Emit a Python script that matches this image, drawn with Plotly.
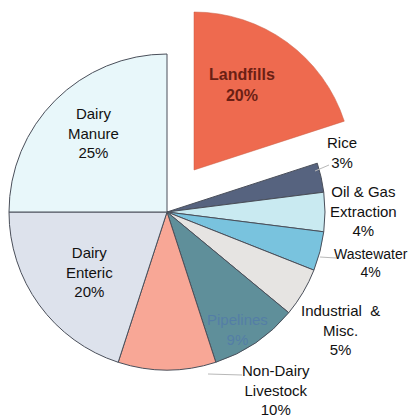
import plotly.graph_objects as go

# ---- data ----
labels = ["Landfills", "Rice", "Oil & Gas Extraction", "Wastewater",
          "Industrial & Misc.", "Pipelines", "Non-Dairy Livestock",
          "Dairy Enteric", "Dairy Manure"]
values = [20, 3, 4, 4, 5, 9, 10, 20, 25]
label_lines = ["Landfills", "Rice", "Oil & Gas<br>Extraction", "Wastewater",
               "Industrial  &<br>Misc.", "Pipelines", "Non-Dairy<br>Livestock",
               "Dairy<br>Enteric", "Dairy<br>Manure"]

# ---- style ----
W, H = 417, 418
colors = ["#ee6a4f", "#56637f", "#c9eaf1", "#79c3de", "#e6e4e2",
          "#5f8f9a", "#f8a796", "#dde2ec", "#e8f7fa"]
pulled = 0  # index of pulled slice
R = 158
center = (167, 212)
pull_center = (194, 170)

# label positions in pixels (x, y) and styles
label_pos = [(242, 85), (342, 152), (363, 211), (371, 263), (340, 330),
             (237, 329), (276, 390), (89, 272), (93, 133)]
label_size = [16, 15, 15, 14, 15, 15, 15, 15, 15]
label_color = ["#6b1f14", "#111111", "#111111", "#111111", "#111111",
               "rgba(80,120,170,0.75)", "#111111", "#111111", "#111111"]
label_bold = [True] + [False] * 8


def dom(c):
    x0, y0 = c[0] - R, c[1] - R
    x1, y1 = c[0] + R, c[1] + R
    return dict(x=[x0 / W, x1 / W], y=[1 - y1 / H, 1 - y0 / H])


n = len(values)
main_colors = [("rgba(0,0,0,0)" if i == pulled else colors[i]) for i in range(n)]
main_lw = [(0 if i == pulled else 1) for i in range(n)]
pull_colors = [(colors[i] if i == pulled else "rgba(0,0,0,0)") for i in range(n)]
pull_lw = [(0.5 if i == pulled else 0) for i in range(n)]

fig = go.Figure()
fig.add_trace(go.Pie(
    labels=labels, values=values, sort=False, direction="clockwise",
    rotation=0, domain=dom(center), textinfo="none", hoverinfo="label+percent",
    marker=dict(colors=main_colors, line=dict(color="#4a4f5a", width=main_lw)),
    showlegend=False))
fig.add_trace(go.Pie(
    labels=labels, values=values, sort=False, direction="clockwise",
    rotation=0, domain=dom(pull_center), textinfo="none", hoverinfo="skip",
    marker=dict(colors=pull_colors, line=dict(color="#c85a40", width=pull_lw)),
    showlegend=False))

for i in range(n):
    txt = f"{label_lines[i]}<br>{values[i]}%"
    if label_bold[i]:
        txt = f"<b>{label_lines[i]}<br>{values[i]}%</b>"
    fig.add_annotation(
        x=label_pos[i][0] / W, y=1 - label_pos[i][1] / H, xref="paper", yref="paper",
        text=txt, showarrow=False, xanchor="center", yanchor="middle",
        font=dict(family="Liberation Sans, Arial, sans-serif",
                  size=label_size[i], color=label_color[i]))

# leader lines (pixel coords)
leaders = [((315, 171), (329, 165)), ((320, 257), (336, 258)), ((208, 374), (242, 375))]
for (a, b) in leaders:
    fig.add_shape(type="line", xref="paper", yref="paper",
                  x0=a[0] / W, y0=1 - a[1] / H, x1=b[0] / W, y1=1 - b[1] / H,
                  line=dict(color="#b8b8b8", width=1))

fig.update_layout(width=W, height=H, margin=dict(l=0, r=0, t=0, b=0),
                  paper_bgcolor="white", plot_bgcolor="white")
fig.write_html("out.html", config={"displayModeBar": False},
               post_script="document.body.style.margin='0';document.body.style.overflow='hidden';")
